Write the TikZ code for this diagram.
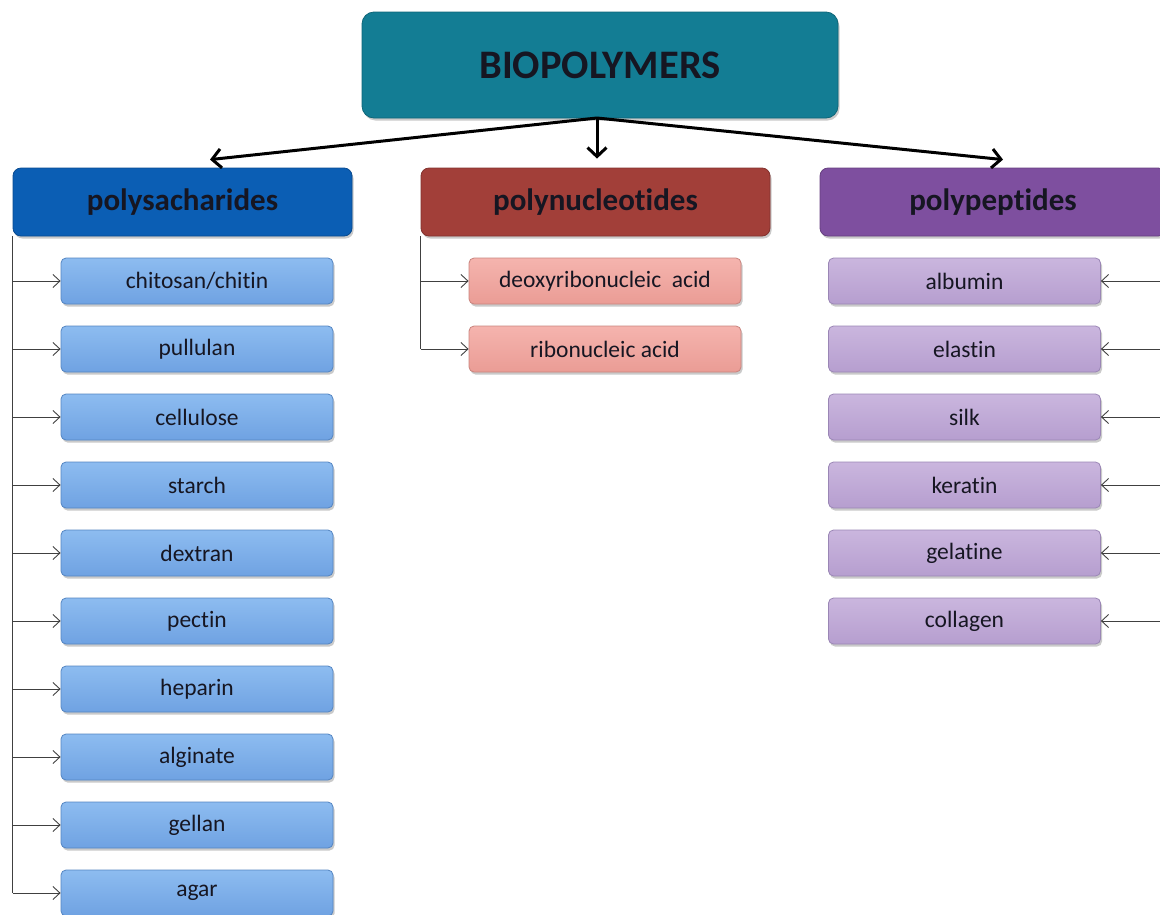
\documentclass[tikz,border=0pt]{standalone}
\usepackage{fontspec}
\setmainfont{Carlito}[Ligatures={NoCommon}]
\usetikzlibrary{arrows.meta,shadows}
\definecolor{topc}{HTML}{137D94}
\definecolor{topd}{HTML}{0E6678}
\definecolor{psc}{HTML}{0B5EB4}
\definecolor{pnc}{HTML}{A23F39}
\definecolor{ppc}{HTML}{7E4F9F}
\definecolor{lbt}{HTML}{8DBCF0}
\definecolor{lbb}{HTML}{6FA2E2}
\definecolor{lbd}{HTML}{5485C2}
\definecolor{pkt}{HTML}{F5B4AE}
\definecolor{pkb}{HTML}{EA9C95}
\definecolor{pkd}{HTML}{C8847E}
\definecolor{lvt}{HTML}{CAB6DE}
\definecolor{lvb}{HTML}{B69ECF}
\definecolor{lvd}{HTML}{9A86B5}
\definecolor{txt}{HTML}{161622}
\tikzset{
  shd/.style={drop shadow={shadow xshift=1.5pt,shadow yshift=-2.5pt,opacity=0.35,fill=black!60}},
  topbox/.style={shd,rounded corners=12pt,fill=topc,draw=topd,line width=0.8pt,minimum width=476pt,minimum height=106pt,font=\fontsize{40.5}{44}\selectfont\bfseries,text=txt},
  headbox/.style={shd,rounded corners=8pt,draw=#1!80!black,fill=#1,line width=0.8pt,minimum width=339pt,minimum height=68pt,font=\fontsize{31}{34}\selectfont\bfseries,text=txt},
  child/.style n args={3}{shd,rounded corners=5pt,top color=#1,bottom color=#2,draw=#3,line width=0.8pt,minimum width=272pt,minimum height=46pt,font=\fontsize{23.5}{26}\selectfont,text=txt},
  lb/.style={child={lbt}{lbb}{lbd}},
  pk/.style={child={pkt}{pkb}{pkd}},
  lv/.style={child={lvt}{lvb}{lvd}},
  bigarr/.style={line width=3pt,black,-{Straight Barb[length=9pt,width=19pt,line width=3pt]}},
  thinarr/.style={line width=1pt,black!75,-{Straight Barb[length=7pt,width=13pt,line width=0.9pt]}},
  trunk/.style={line width=1pt,black!75}
}
\begin{document}
\begin{tikzpicture}[x=1pt,y=-1pt]
\useasboundingbox (0,0) rectangle (1160,914);
\node[topbox] (top) at (600,65) {BIOPOLYMERS};
\node[headbox=psc] (ps) at (182.5,202) {polysacharides};
\node[headbox=pnc,minimum width=349pt] (pn) at (595.5,202) {polynucleotides};
\node[headbox=ppc,minimum width=346pt] (pp) at (993,202) {polypeptides};
\coordinate (hub) at (597,118);
\coordinate (lx) at (210,0);
\coordinate (rx) at (1003,0);
\draw[bigarr] (hub) -- ([yshift=8pt]ps.north -| lx);
\draw[bigarr] (hub) -- ([yshift=9pt]pn.north -| hub);
\draw[bigarr] (hub) -- ([yshift=8pt]pp.north -| rx);
% polysaccharides
\foreach \t [count=\i] in {chitosan/chitin,pullulan,cellulose,starch,dextran,pectin,heparin,alginate,gellan,agar}{
  \node[lb] (s\i) at (197,{281+68*(\i-1)}) {\t};
}
\draw[trunk] (ps.south west) -- (ps.south west |- s10.west);
\foreach \i in {1,...,10}{
  \draw[thinarr] (ps.south west |- s\i.west) -- (s\i.west);
}
% polynucleotides
\node[pk] (n1) at (605,281) {deoxyribonucleic\ \ acid};
\node[pk] (n2) at (605,349) {ribonucleic acid};
\draw[trunk] (pn.south west) -- (pn.south west |- n2.west);
\foreach \i in {1,2}{
  \draw[thinarr] (pn.south west |- n\i.west) -- (n\i.west);
}
% polypeptides
\coordinate (redge) at (1160,0);
\foreach \t [count=\i] in {albumin,elastin,silk,keratin,gelatine,collagen}{
  \node[lv] (p\i) at (964.5,{281+68*(\i-1)}) {\t};
  \draw[thinarr] (redge |- p\i.east) -- (p\i.east);
}
\end{tikzpicture}
\end{document}
